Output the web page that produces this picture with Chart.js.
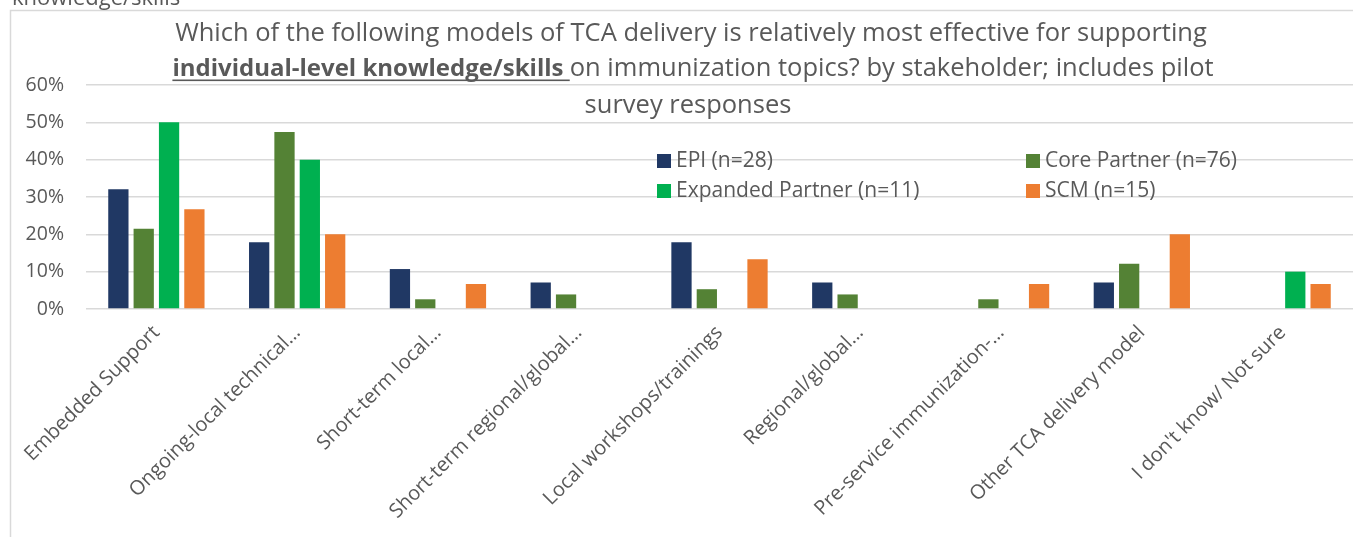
<!DOCTYPE html>
<html>
<head>
<meta charset="utf-8">
<script src="https://cdn.jsdelivr.net/npm/chart.js@4.4.1/dist/chart.umd.min.js"></script>
<style>
  html, body { margin: 0; padding: 0; background: #fff; }
  #wrap { position: relative; width: 1353px; height: 537px; }
</style>
</head>
<body>
<div id="wrap"><canvas id="tcaChart" width="1353" height="537"></canvas></div>
<script>
// Data (percent of respondents)
const categories = [
    'Embedded Support',
    'Ongoing-local technical…',
    'Short-term local…',
    'Short-term regional/global…',
    'Local workshops/trainings',
    'Regional/global…',
    'Pre-service immunization-…',
    'Other TCA delivery model',
    "I don't know/ Not sure"
];
const seriesNames = ['EPI (n=28)', 'Core Partner (n=76)', 'Expanded Partner (n=11)', 'SCM (n=15)'];
const epiValues = [32.1, 17.9, 10.7, 7.1, 17.9, 7.1, 0, 7.1, 0];
const coreValues = [21.5, 47.4, 2.6, 3.9, 5.3, 3.9, 2.6, 12.1, 0];
const expandedValues = [50, 40, 0, 0, 0, 0, 0, 0, 10];
const scmValues = [26.7, 20, 6.7, 0, 13.3, 0, 6.7, 20, 6.7];
const yTicks = [0, 10, 20, 30, 40, 50, 60];

const colors = ['#203864', '#548235', '#00b050', '#ed7d31'];
const textColor = '#595959';
const fontFamily = "'Open Sans', sans-serif";

// Title, legend and frame drawn on top of the plot (as in the Excel original)
const overlayPlugin = {
    id: 'overlay',
    afterDraw(chart) {
        const ctx = chart.ctx;
        ctx.save();

        // outer frame
        ctx.strokeStyle = '#d9d9d9';
        ctx.lineWidth = 1.5;
        ctx.beginPath();
        ctx.moveTo(10.5, 560);
        ctx.lineTo(10.5, 10.5);
        ctx.lineTo(1360, 10.5);
        ctx.stroke();

        // clipped heading above the frame
        ctx.fillStyle = textColor;
        ctx.font = '22px ' + fontFamily;
        ctx.textAlign = 'left';
        ctx.textBaseline = 'alphabetic';
        ctx.fillText('knowledge/skills', 12, 5);

        // title
        const cx = 691;
        const regular = '25.5px ' + fontFamily;
        const bold = 'bold 24px ' + fontFamily;
        ctx.textAlign = 'center';
        ctx.font = regular;
        ctx.fillText('Which of the following models of TCA delivery is relatively most effective for supporting', cx, 41);
        ctx.fillText('survey responses', 688, 113);

        const boldPart = 'individual-level knowledge/skills ';
        const restPart = 'on immunization topics? by stakeholder; includes pilot';
        ctx.font = bold;
        const wb = ctx.measureText(boldPart).width;
        ctx.font = regular;
        const wr = ctx.measureText(restPart).width;
        const x0 = 693 - (wb + wr) / 2;
        ctx.textAlign = 'left';
        ctx.font = bold;
        ctx.fillText(boldPart, x0, 76);
        ctx.fillRect(x0, 79.5, wb, 1.6);
        ctx.font = regular;
        ctx.fillText(restPart, x0 + wb, 76);

        // legend, two columns
        ctx.textBaseline = 'middle';
        ctx.font = '21px ' + fontFamily;
        const cols = [657, 1026];
        const rows = [161, 191];
        chart.data.datasets.forEach(function(ds, i) {
            const lx = cols[i % 2];
            const ly = rows[Math.floor(i / 2)];
            ctx.fillStyle = ds.backgroundColor;
            ctx.fillRect(lx, ly - 7, 14, 14);
            ctx.fillStyle = textColor;
            ctx.fillText(ds.label, lx + 19, ly);
        });

        ctx.restore();
    }
};

new Chart(document.getElementById('tcaChart').getContext('2d'), {
    type: 'bar',
    data: {
        labels: categories,
        datasets: [
            { label: seriesNames[0], data: epiValues, backgroundColor: colors[0] },
            { label: seriesNames[1], data: coreValues, backgroundColor: colors[1] },
            { label: seriesNames[2], data: expandedValues, backgroundColor: colors[2] },
            { label: seriesNames[3], data: scmValues, backgroundColor: colors[3] }
        ]
    },
    options: {
        responsive: false,
        animation: false,
        devicePixelRatio: 1,
        layout: { padding: { top: 85, left: 0, right: 0, bottom: 0 } },
        datasets: { bar: { categoryPercentage: 0.72, barPercentage: 0.8, borderWidth: 0 } },
        plugins: {
            legend: { display: false },
            tooltip: { enabled: false }
        },
        scales: {
            x: {
                grid: { display: false },
                border: { display: false },
                ticks: {
                    color: textColor,
                    font: { family: fontFamily, size: 20 },
                    minRotation: 45, maxRotation: 45,
                    autoSkip: false,
                    padding: 4
                },
                afterFit(scale) { scale.height = 228; }
            },
            y: {
                min: 0, max: 60,
                afterBuildTicks(scale) { scale.ticks = yTicks.map(v => ({ value: v })); },
                grid: { color: '#d9d9d9', lineWidth: 1.5, drawTicks: false },
                border: { display: false },
                ticks: {
                    color: textColor,
                    font: { family: fontFamily, size: 19.5 },
                    padding: 22,
                    callback: v => v + '%'
                },
                afterFit(scale) { scale.width = 86; }
            }
        }
    },
    plugins: [overlayPlugin]
});
</script>
</body>
</html>
